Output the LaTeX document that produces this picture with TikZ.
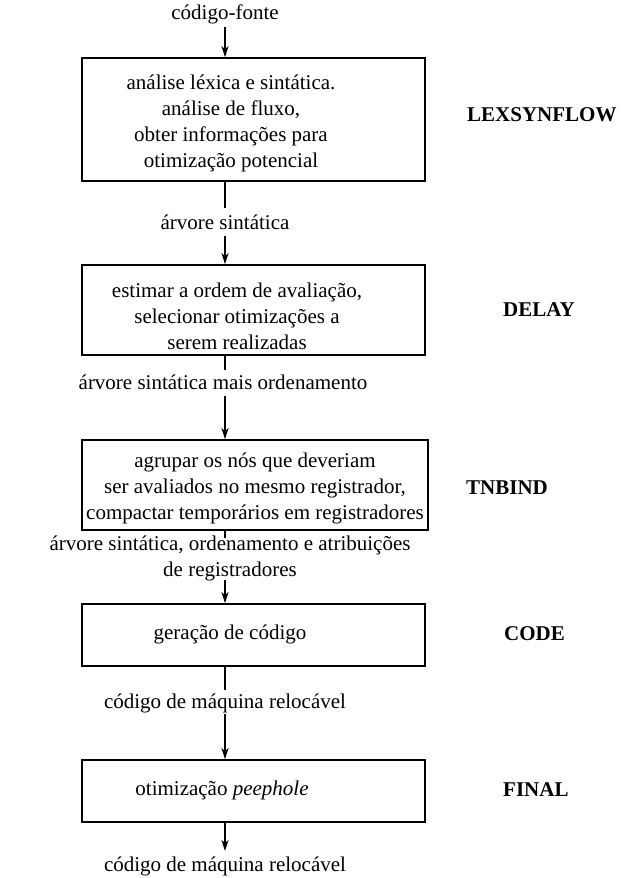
\documentclass[tikz,border=0pt]{standalone}
\usepackage{fontspec}
\setmainfont{Liberation Serif}
\usetikzlibrary{arrows.meta}
\begin{document}
\begin{tikzpicture}[x=1pt,y=-1pt,
  box/.style={draw, line width=1.7pt, minimum width=343pt, inner sep=0pt},
  txt/.style={font=\fontsize{21}{26}\selectfont, align=center, inner sep=0pt},
  lab/.style={font=\fontsize{21}{26}\selectfont\bfseries, anchor=west, inner sep=0pt},
  flow/.style={line width=1.5pt},
  arr/.style={line width=1.5pt, -{Stealth[length=11pt,width=7pt,inset=3pt]}}]
\useasboundingbox (0,0) rectangle (630,878);
% boxes
\node[box, minimum height=123pt] (b1) at (253.5,119.5) {};
\node[box, minimum height=90pt] (b2) at (253.5,310) {};
\node[box, minimum height=90pt, minimum width=346pt] (b3) at (255,485) {};
\node[box, minimum height=62pt] (b4) at (253.5,635) {};
\node[box, minimum height=62pt] (b5) at (253.5,791) {};
% box texts
\node[txt] (t1) at (231,123) {análise léxica e sintática.\\análise de fluxo,\\obter informações para\\otimização potencial};
\node[txt] (t2) at (237,316) {estimar a ordem de avaliação,\\selecionar otimizações a\\serem realizadas};
\node[txt] (t3) at (255,488) {agrupar os nós que deveriam\\ser avaliados no mesmo registrador,\\compactar temporários em registradores};
\node[txt] (t4) at (230,634) {geração de código};
\node[txt] (t5) at (222,790) {otimização \textit{peephole}};
% flow labels
\node[txt] (src) at (225,14) {código-fonte};
\node[txt] (l1) at (225,222) {árvore sintática};
\node[txt] (l2) at (223,382) {árvore sintática mais ordenamento};
\node[txt] (l3) at (230,558) {árvore sintática, ordenamento e atribuições\\de registradores};
\node[txt] (l4) at (225,703) {código de máquina relocável};
\node[txt] (l5) at (225,866) {código de máquina relocável};
% phase names
\node[lab] (n1) at (467,115) {LEXSYNFLOW};
\node[lab] (n2) at (503,310) {DELAY};
\node[lab] (n3) at (466,488) {TNBIND};
\node[lab] (n4) at (504,634) {CODE};
\node[lab] (n5) at (503,790) {FINAL};
% connectors
\coordinate (c0) at (225,27);
\coordinate (c1) at (225,208);
\coordinate (c2) at (225,236);
\coordinate (c3) at (225,370);
\coordinate (c4) at (225,396);
\coordinate (c5) at (225,538);
\coordinate (c6) at (225,580);
\coordinate (c7) at (225,690);
\coordinate (c8) at (225,714);
\coordinate (c9) at (225,851);
\draw[arr] (c0) -- (c0 |- b1.north);
\draw[flow] (c1 |- b1.south) -- (c1);
\draw[arr] (c2) -- (c2 |- b2.north);
\draw[flow] (c3 |- b2.south) -- (c3);
\draw[arr] (c4) -- (c4 |- b3.north);
\draw[flow] (c5 |- b3.south) -- (c5);
\draw[arr] (c6) -- (c6 |- b4.north);
\draw[flow] (c7 |- b4.south) -- (c7);
\draw[arr] (c8) -- (c8 |- b5.north);
\draw[arr] (c9 |- b5.south) -- (c9);
\end{tikzpicture}
\end{document}
